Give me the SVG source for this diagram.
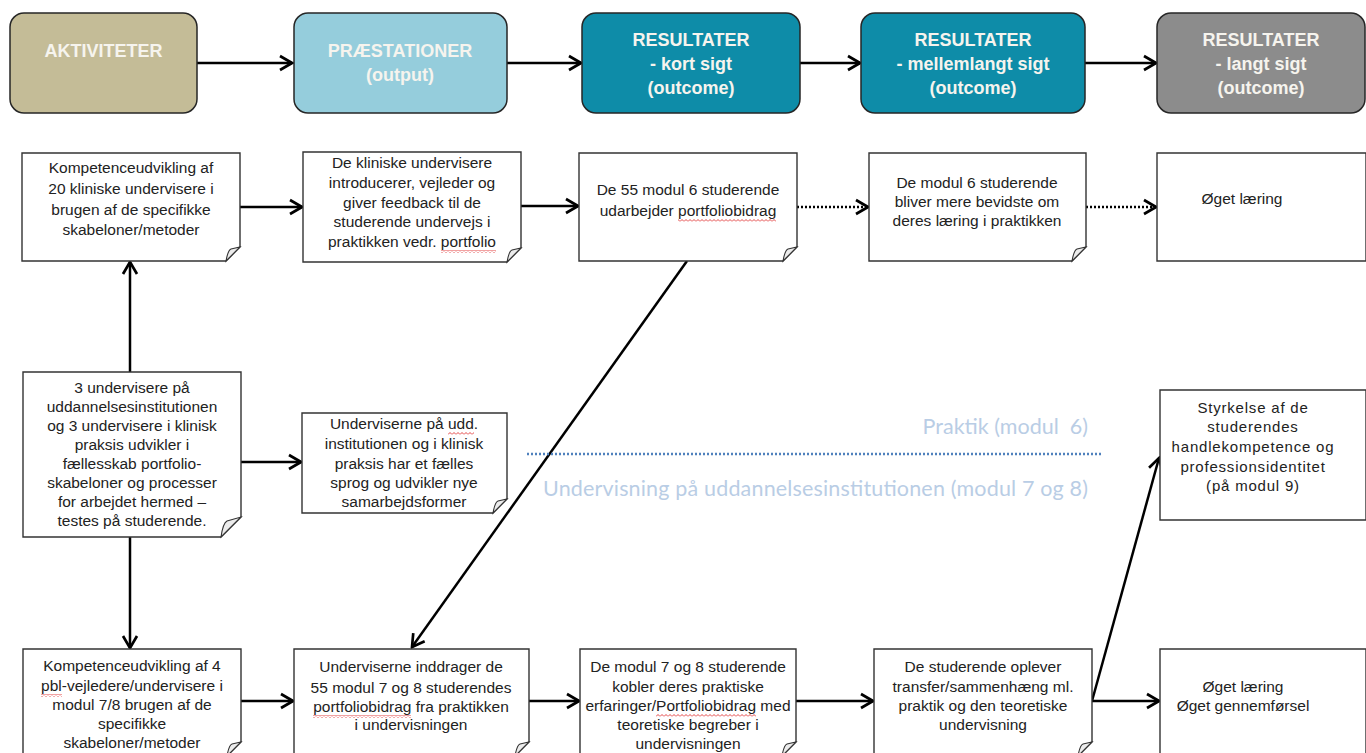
<svg xmlns="http://www.w3.org/2000/svg" width="1366" height="753" viewBox="0 0 1366 753">
<defs>
<style>
.hdr{stroke:#262626;stroke-width:1.5}
.hd{font-family:"Liberation Sans",Arial,sans-serif;font-weight:bold;font-size:18px;fill:#f6f4ee;text-anchor:middle}
.box{fill:#fff;stroke:#333;stroke-width:1.4}
.fold{fill:#ececec;stroke:#333;stroke-width:1.1}
.t{font-family:"Liberation Sans",Arial,sans-serif;font-size:15.5px;fill:#222;text-anchor:middle}
.ts{font-size:15px;letter-spacing:0.8px}
.ln{fill:none;stroke:#000;stroke-width:2.5}
.dot{stroke-dasharray:2 2}
.lab{font-family:Lato,"Open Sans",sans-serif;font-size:21.5px;fill:#b9cde5}
.sq{fill:url(#wavy)}
</style>
<marker id="ah" markerUnits="userSpaceOnUse" markerWidth="18" markerHeight="18" viewBox="0 0 18 18" refX="16" refY="9" orient="auto">
<path d="M4,2 L16,9 L4,16" fill="none" stroke="#000" stroke-width="2.7" stroke-linejoin="miter"/>
</marker>
<pattern id="wavy" width="4" height="3" patternUnits="userSpaceOnUse">
<path d="M0,2.5 L2,0.5 L4,2.5" fill="none" stroke="#e03030" stroke-width="0.9"/>
</pattern>
</defs>
<rect width="1366" height="753" fill="#fff"/>

<g id="connectors">
<line class="ln" x1="197" y1="63" x2="292" y2="63" marker-end="url(#ah)"/>
<line class="ln" x1="507" y1="63" x2="581" y2="63" marker-end="url(#ah)"/>
<line class="ln" x1="800" y1="63" x2="860" y2="63" marker-end="url(#ah)"/>
<line class="ln" x1="1085" y1="63" x2="1156" y2="63" marker-end="url(#ah)"/>
<line class="ln" x1="240" y1="207" x2="302" y2="207" marker-end="url(#ah)"/>
<line class="ln" x1="510" y1="206" x2="578" y2="206" marker-end="url(#ah)"/>
<line class="ln dot" x1="797" y1="207" x2="868" y2="207" marker-end="url(#ah)"/>
<line class="ln dot" x1="1086" y1="207" x2="1156" y2="207" marker-end="url(#ah)"/>
<line class="ln" x1="130" y1="372" x2="130" y2="262" marker-end="url(#ah)"/>
<line class="ln" x1="130" y1="537" x2="130" y2="648" marker-end="url(#ah)"/>
<line class="ln" x1="241" y1="462" x2="301" y2="462" marker-end="url(#ah)"/>
<line class="ln" x1="687" y1="261" x2="412" y2="647" marker-end="url(#ah)"/>
<line class="ln" x1="241" y1="701" x2="293" y2="701" marker-end="url(#ah)"/>
<line class="ln" x1="529" y1="701" x2="579" y2="701" marker-end="url(#ah)"/>
<line class="ln" x1="796" y1="701" x2="873" y2="701" marker-end="url(#ah)"/>
<line class="ln" x1="1092" y1="701" x2="1159" y2="701" marker-end="url(#ah)"/>
<line class="ln" x1="1092" y1="701" x2="1159" y2="458" marker-end="url(#ah)"/>
</g>

<g id="divider">
<line x1="527" y1="454" x2="1101" y2="454" stroke="#4f81bd" stroke-width="2.5" stroke-dasharray="2 2"/>
<text class="lab" x="1088" y="434" text-anchor="end">Praktik (modul&#160; 6)</text>
<text class="lab" x="543" y="496" textLength="545">Undervisning på uddannelsesinstitutionen (modul 7 og 8)</text>
</g>

<g id="h1"><rect class="hdr" x="10" y="13" width="187" height="100" rx="14" fill="#c4bc97"/>
<text class="hd" x="103.5" y="57">AKTIVITETER</text></g>
<g id="h2"><rect class="hdr" x="294" y="13" width="213" height="100" rx="14" fill="#95cddc"/>
<text class="hd" x="400" y="57">PRÆSTATIONER</text><text class="hd" x="400" y="81">(output)</text></g>
<g id="h3"><rect class="hdr" x="582" y="13" width="218" height="100" rx="14" fill="#0e8ca8"/>
<text class="hd" x="691" y="46">RESULTATER</text><text class="hd" x="691" y="70">- kort sigt</text><text class="hd" x="691" y="94">(outcome)</text></g>
<g id="h4"><rect class="hdr" x="861" y="13" width="224" height="100" rx="14" fill="#0e8ca8"/>
<text class="hd" x="973" y="46">RESULTATER</text><text class="hd" x="973" y="70">- mellemlangt sigt</text><text class="hd" x="973" y="94">(outcome)</text></g>
<g id="h5"><rect class="hdr" x="1157" y="13" width="208" height="100" rx="14" fill="#8c8c8c"/>
<text class="hd" x="1261" y="46">RESULTATER</text><text class="hd" x="1261" y="70">- langt sigt</text><text class="hd" x="1261" y="94">(outcome)</text></g>

<g id="a1">
<path class="box" d="M22,153 H240 V247 L226,261 H22 Z"/>
<path class="fold" d="M226,261 Q228,250 231,249 L240,247 Z"/>
<text class="t" x="131"><tspan x="131" y="173">Kompetenceudvikling af</tspan><tspan x="131" y="194">20 kliniske undervisere i</tspan><tspan x="131" y="215">brugen af de specifikke</tspan><tspan x="131" y="235">skabeloner/metoder</tspan></text>
</g>
<g id="b1">
<path class="box" d="M303,152 H521 V248 L507,262 H303 Z"/>
<path class="fold" d="M507,262 Q509,251 512,250 L521,248 Z"/>
<text class="t" x="412"><tspan x="412" y="168">De kliniske undervisere</tspan><tspan x="412" y="188">introducerer, vejleder og</tspan><tspan x="412" y="208">giver feedback til de</tspan><tspan x="412" y="227">studerende undervejs i</tspan><tspan x="412" y="247">praktikken vedr. portfolio</tspan></text>
<rect class="sq" x="441" y="250" width="55" height="3"/>
</g>
<g id="c1">
<path class="box" d="M579,153 H797 V247 L783,261 H579 Z"/>
<path class="fold" d="M783,261 Q785,250 788,249 L797,247 Z"/>
<text class="t" x="688"><tspan x="688" y="195">De 55 modul 6 studerende</tspan><tspan x="688" y="216">udarbejder portfoliobidrag</tspan></text>
<rect class="sq" x="678" y="219" width="98" height="3"/>
</g>
<g id="d1">
<path class="box" d="M869,153 H1086 V247 L1072,261 H869 Z"/>
<path class="fold" d="M1072,261 Q1074,250 1077,249 L1086,247 Z"/>
<text class="t" x="977"><tspan x="977" y="188">De modul 6 studerende</tspan><tspan x="977" y="207">bliver mere bevidste om</tspan><tspan x="977" y="226">deres læring i praktikken</tspan></text>
</g>
<g id="e1">
<path class="box" d="M1157,153 H1366 V261 H1157 Z"/>
<text class="t" x="1242" y="204">Øget læring</text>
</g>

<g id="a2">
<path class="box" d="M23,372 H241 V517 L221,537 H23 Z"/>
<path class="fold" d="M221,537 Q223,523 227,521 L241,517 Z"/>
<text class="t" x="132"><tspan x="132" y="393">3 undervisere på</tspan><tspan x="132" y="412">uddannelsesinstitutionen</tspan><tspan x="132" y="431">og 3 undervisere i klinisk</tspan><tspan x="132" y="450">praksis udvikler i</tspan><tspan x="132" y="469">fællesskab portfolio-</tspan><tspan x="132" y="488">skabeloner og processer</tspan><tspan x="132" y="507">for arbejdet hermed –</tspan><tspan x="132" y="526">testes på studerende.</tspan></text>
</g>
<g id="b2">
<path class="box" d="M302,413 H507 V499 L493,513 H302 Z"/>
<path class="fold" d="M493,513 Q495,502 498,501 L507,499 Z"/>
<text class="t" x="404"><tspan x="404" y="429">Underviserne på udd.</tspan><tspan x="404" y="449">institutionen og i klinisk</tspan><tspan x="404" y="469">praksis har et fælles</tspan><tspan x="404" y="488">sprog og udvikler nye</tspan><tspan x="404" y="507">samarbejdsformer</tspan></text>
<rect class="sq" x="448" y="432" width="26" height="3"/>
</g>
<g id="f2">
<path class="box" d="M1160,390 H1366 V520 H1160 Z"/>
<text class="t ts" x="1253"><tspan x="1253" y="413">Styrkelse af de</tspan><tspan x="1253" y="432">studerendes</tspan><tspan x="1253" y="452">handlekompetence og</tspan><tspan x="1253" y="472">professionsidentitet</tspan><tspan x="1253" y="491">(på modul 9)</tspan></text>
</g>

<g id="a3">
<path class="box" d="M23,649 H241 V742 L227,756 H23 Z"/>
<path class="fold" d="M227,756 Q229,745 232,744 L241,742 Z"/>
<text class="t" x="132"><tspan x="132" y="671">Kompetenceudvikling af 4</tspan><tspan x="132" y="691">pbl-vejledere/undervisere i</tspan><tspan x="132" y="710">modul 7/8 brugen af de</tspan><tspan x="132" y="729">specifikke</tspan><tspan x="132" y="748">skabeloner/metoder</tspan></text>
<rect class="sq" x="41" y="694" width="21" height="3"/>
</g>
<g id="b3">
<path class="box" d="M294,649 H529 V742 L515,756 H294 Z"/>
<path class="fold" d="M515,756 Q517,745 520,744 L529,742 Z"/>
<text class="t" x="411"><tspan x="411" y="672">Underviserne inddrager de</tspan><tspan x="411" y="693">55 modul 7 og 8 studerendes</tspan><tspan x="411" y="712">portfoliobidrag fra praktikken</tspan><tspan x="411" y="730">i undervisningen</tspan></text>
<rect class="sq" x="313" y="715" width="98" height="3"/>
</g>
<g id="c3">
<path class="box" d="M580,649 H796 V742 L782,756 H580 Z"/>
<path class="fold" d="M782,756 Q784,745 787,744 L796,742 Z"/>
<text class="t" x="688"><tspan x="688" y="672">De modul 7 og 8 studerende</tspan><tspan x="688" y="692">kobler deres praktiske</tspan><tspan x="688" y="711">erfaringer/Portfoliobidrag med</tspan><tspan x="688" y="730">teoretiske begreber i</tspan><tspan x="688" y="749">undervisningen</tspan></text>
<rect class="sq" x="656" y="714" width="100" height="3"/>
</g>
<g id="d3">
<path class="box" d="M874,649 H1092 V742 L1078,756 H874 Z"/>
<path class="fold" d="M1078,756 Q1080,745 1083,744 L1092,742 Z"/>
<text class="t" x="983"><tspan x="983" y="672">De studerende oplever</tspan><tspan x="983" y="692">transfer/sammenhæng ml.</tspan><tspan x="983" y="711">praktik og den teoretiske</tspan><tspan x="983" y="730">undervisning</tspan></text>
</g>
<g id="e3">
<path class="box" d="M1160,649 H1366 V756 H1160 Z"/>
<text class="t" x="1243"><tspan x="1243" y="692">Øget læring</tspan><tspan x="1243" y="711">Øget gennemførsel</tspan></text>
</g>
</svg>
